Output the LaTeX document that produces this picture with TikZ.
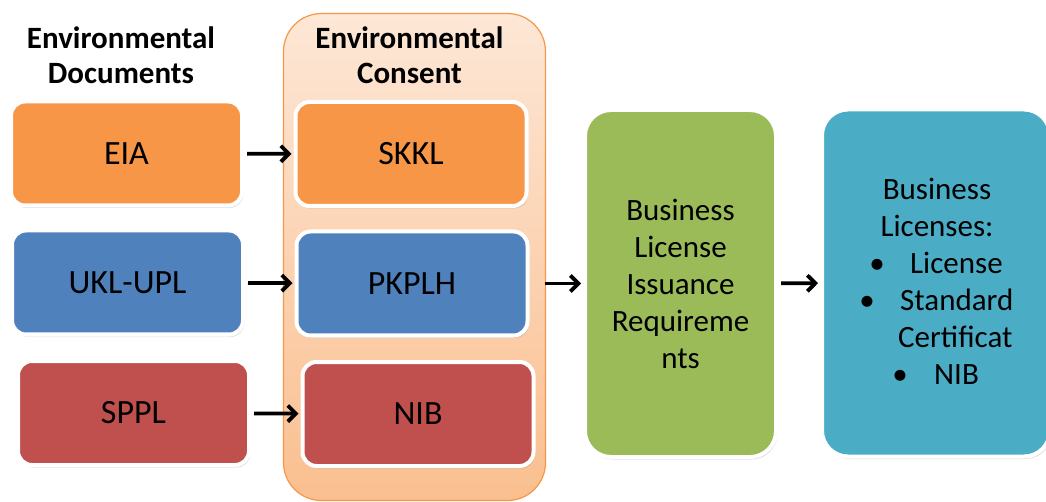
\documentclass[tikz,border=0pt]{standalone}
\usepackage{fontspec}
\setmainfont{Carlito}
\usetikzlibrary{arrows.meta,%
                shapes,positioning,shadows}
\definecolor{ppOrange}{HTML}{F79646}
\definecolor{ppBlue}{HTML}{4F81BD}
\definecolor{ppRed}{HTML}{C0504D}
\definecolor{ppGreen}{HTML}{9BBB59}
\definecolor{ppCyan}{HTML}{4BACC6}
\definecolor{ppPeachTop}{HTML}{FDE7D6}
\definecolor{ppPeachBot}{HTML}{FABF8F}
\tikzset{
  docbox/.style={draw=white, line width=4pt, rounded corners=14pt,
    minimum width=231pt, minimum height=104pt, inner sep=0pt,
    font=\fontsize{34}{40}\selectfont,
    drop shadow={shadow xshift=1.5pt, shadow yshift=-2.5pt, opacity=0.25}},
  tallbox/.style={docbox, rounded corners=26pt, minimum height=347pt},
  head/.style={font=\bfseries\fontsize{31}{35}\selectfont, align=center},
  txt/.style={font=\fontsize{31}{37}\selectfont},
  flow/.style={-{Straight Barb[length=8pt,width=16pt]}, line width=3.8pt,
    shorten <=3pt, shorten >=2pt}
}
\begin{document}
\begin{tikzpicture}[x=1pt,y=-1pt]
\useasboundingbox (0,0) rectangle (1046,502);
% consent column
\node[draw=ppOrange, line width=1.2pt, rounded corners=38pt,
  top color=ppPeachTop, bottom color=ppPeachBot,
  minimum width=262pt, minimum height=487pt] (consent) at (414.5,257) {};
\node[head] (dochead) at (121,55) {Environmental\\Documents};
\node[head] (conhead) at (409.5,55) {Environmental\\Consent};
% documents and consents
\node[docbox, fill=ppOrange] (eia) at (126.5,153.5) {EIA};
\node[docbox, fill=ppOrange] (skkl) at (411,154) {SKKL};
\node[docbox, fill=ppBlue] (ukl) at (127.5,282.5) {UKL-UPL};
\node[docbox, fill=ppBlue] (pkplh) at (412,283.5) {PKPLH};
\node[docbox, fill=ppRed] (sppl) at (133.5,413) {SPPL};
\node[docbox, fill=ppRed] (nib) at (418,414) {NIB};
% requirements and licenses
\node[tallbox, fill=ppGreen, minimum width=191pt, txt, align=center] (req)
  at (680.5,283.5) {Business\\License\\Issuance\\Requireme\\nts};
\node[tallbox, fill=ppCyan, minimum width=228pt] (lic) at (936,283) {};
\node[txt, anchor=base] (lic1) at (937,200) {Business};
\node[txt, anchor=base] (lic2) at (937,237) {Licenses:};
\node[txt, anchor=base] (bul1) at (877,274) {\textbullet};
\node[txt, anchor=base west, inner sep=0pt] (lic3) at (910,274) {License};
\node[txt, anchor=base] (bul2) at (867,311) {\textbullet};
\node[txt, anchor=base west, inner sep=0pt] (lic4) at (900,311) {Standard};
\node[txt, anchor=base west, inner sep=0pt] (lic5) at (898,347) {Certificat};
\node[txt, anchor=base] (bul3) at (900,384) {\textbullet};
\node[txt, anchor=base west, inner sep=0pt] (lic6) at (934,384) {NIB};
% arrows
\draw[flow] (eia) -- (skkl);
\draw[flow] (ukl) -- (pkplh);
\draw[flow] (sppl) -- (nib);
\draw[flow, shorten <=-1pt] (consent.east |- req) -- (req);
\draw[flow] (req) -- (lic);
\end{tikzpicture}
\end{document}
